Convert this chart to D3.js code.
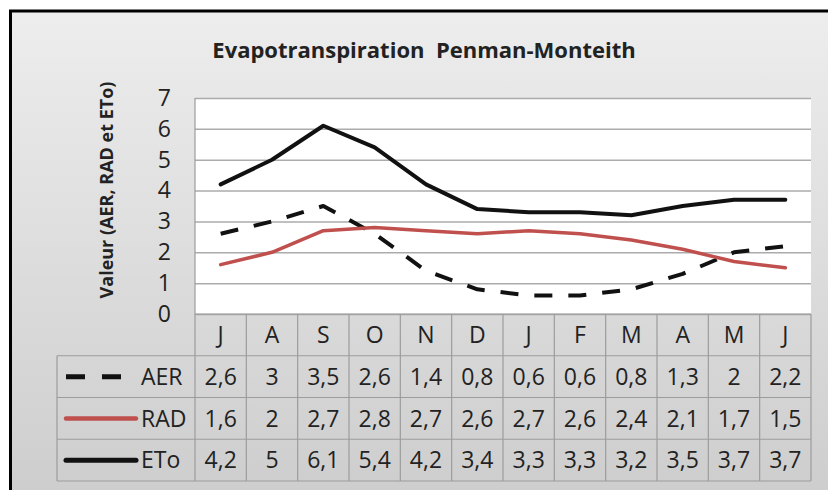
<!DOCTYPE html>
<html>
<head>
<meta charset="utf-8">
<style>
  body { margin: 0; background: #fff; }
  svg text { font-family: "Open Sans", sans-serif; fill: #222; }
</style>
</head>
<body>
  <svg id="chart"></svg>

  <script src="https://cdn.jsdelivr.net/npm/d3@7"></script>
  <script>
    // values
    months = ["J", "A", "S", "O", "N", "D", "J", "F", "M", "A", "M", "J"]
    aer = [2.6, 3, 3.5, 2.6, 1.4, 0.8, 0.6, 0.6, 0.8, 1.3, 2, 2.2]
    rad = [1.6, 2, 2.7, 2.8, 2.7, 2.6, 2.7, 2.6, 2.4, 2.1, 1.7, 1.5]
    eto = [4.2, 5, 6.1, 5.4, 4.2, 3.4, 3.3, 3.3, 3.2, 3.5, 3.7, 3.7]
    yTicks = [0, 1, 2, 3, 4, 5, 6, 7]

    width = 828
    height = 490

    series = [
      { name: "AER", values: aer, color: "#111", dash: "18,16", w: 4 },
      { name: "RAD", values: rad, color: "#c0504d", dash: null, w: 3.5 },
      { name: "ETo", values: eto, color: "#111", dash: null, w: 4 }
    ]

    svg = d3.select('#chart')
            .attr('width', width)
            .attr('height', height)

    // gray gradient background like the excel chart area
    grad = svg.append('defs').append('linearGradient')
              .attr('id', 'bg').attr('x1', 0).attr('y1', 0).attr('x2', 0).attr('y2', 1)
    grad.append('stop').attr('offset', '0%').attr('stop-color', '#ededed')
    grad.append('stop').attr('offset', '100%').attr('stop-color', '#cdcdcd')

    svg.append('rect').attr('x', 11).attr('y', 11).attr('width', width).attr('height', height)
       .attr('fill', 'url(#bg)')
    // frame (right and bottom edges fall outside the picture)
    svg.append('path').attr('d', 'M10.5,' + height + 'V11H' + width)
       .attr('fill', 'none').attr('stroke', '#000').attr('stroke-width', 3)

    plot = { left: 195, right: 811, top: 98, bottom: 314 }
    tableBottom = 481
    legendLeft = 57
    fs = 23

    x = d3.scaleBand().domain(d3.range(months.length)).range([plot.left, plot.right])
    y = d3.scaleLinear().domain([0, 7]).range([plot.bottom, plot.top])
    rowY = d3.scaleBand().domain(["head"].concat(series.map(s => s.name))).range([plot.bottom, tableBottom])

    // plot area
    svg.append('rect')
       .attr('x', plot.left).attr('y', plot.top)
       .attr('width', plot.right - plot.left).attr('height', plot.bottom - plot.top)
       .attr('fill', '#fff')

    // gridlines
    grid = svg.append('g').attr('transform', 'translate(' + plot.left + ',0)')
              .call(d3.axisLeft(y).tickValues(yTicks).tickSize(-(plot.right - plot.left)).tickFormat(''))
    grid.select('.domain').remove()
    grid.selectAll('line').attr('stroke', '#ababab').attr('stroke-width', 1.5)

    // y tick labels
    yAx = svg.append('g').attr('transform', 'translate(171,0)')
             .call(d3.axisLeft(y).tickValues(yTicks).tickSize(0).tickPadding(0).tickFormat(d3.format('d')))
    yAx.select('.domain').remove()
    yAx.selectAll('text').attr('font-size', fs).attr('fill', '#222')
       .style('font-family', '"Open Sans", sans-serif')

    // titles
    svg.append('text').attr('x', 424).attr('y', 58)
       .attr('text-anchor', 'middle').attr('font-size', 22).attr('font-weight', 'bold')
       .style('white-space', 'pre')
       .text('Evapotranspiration  Penman-Monteith')

    svg.append('text').attr('transform', 'translate(113,190) rotate(-90)')
       .attr('text-anchor', 'middle').attr('font-size', 18).attr('font-weight', 'bold')
       .text('Valeur (AER, RAD et ETo)')

    // data table
    table = svg.append('g').attr('fill', 'none').attr('stroke', '#9c9c9c').attr('stroke-width', 1.2)
    // horizontal rules
    table.append('line').attr('x1', plot.left).attr('x2', plot.right)
         .attr('y1', plot.bottom).attr('y2', plot.bottom)
    series.forEach(function(s) {
      table.append('line').attr('x1', legendLeft).attr('x2', plot.right)
           .attr('y1', rowY(s.name)).attr('y2', rowY(s.name))
    })
    table.append('line').attr('x1', legendLeft).attr('x2', plot.right)
         .attr('y1', tableBottom).attr('y2', tableBottom)
    // vertical rules
    d3.range(months.length + 1).forEach(function(i) {
      xx = plot.left + i * x.bandwidth()
      table.append('line').attr('x1', xx).attr('x2', xx)
           .attr('y1', i == 0 ? plot.top : plot.bottom).attr('y2', tableBottom)
    })
    table.append('line').attr('x1', legendLeft).attr('x2', legendLeft)
         .attr('y1', rowY(series[0].name)).attr('y2', tableBottom)

    // month header
    svg.append('g').selectAll('text').data(months).enter().append('text')
       .attr('x', (d, i) => x(i) + x.bandwidth() / 2)
       .attr('y', rowY('head') + rowY.bandwidth() / 2)
       .attr('dy', '0.36em').attr('text-anchor', 'middle').attr('font-size', fs)
       .text(d => d)

    fmt = v => String(v).replace('.', ',')

    series.forEach(function(s) {
      cy = rowY(s.name) + rowY.bandwidth() / 2
      g = svg.append('g')
      g.selectAll('text').data(s.values).enter().append('text')
       .attr('x', (d, i) => x(i) + x.bandwidth() / 2)
       .attr('y', cy).attr('dy', '0.36em').attr('text-anchor', 'middle').attr('font-size', fs)
       .text(d => fmt(d))
      // legend key
      g.append('line').attr('x1', 66).attr('x2', 136).attr('y1', cy).attr('y2', cy)
       .attr('stroke', s.color).attr('stroke-width', s.w + 1)
       .attr('stroke-dasharray', s.dash ? '19,17' : null)
       .attr('stroke-linecap', s.dash ? 'butt' : 'round')
      g.append('text').attr('x', 141).attr('y', cy).attr('dy', '0.36em').attr('font-size', fs)
       .text(s.name)
    })

    // the lines
    line = d3.line()
             .x((d, i) => x(i) + x.bandwidth() / 2)
             .y(d => y(d))

    svg.append('g').selectAll('path').data(series).enter().append('path')
       .attr('d', d => line(d.values))
       .attr('fill', 'none')
       .attr('stroke', d => d.color)
       .attr('stroke-width', d => d.w)
       .attr('stroke-dasharray', d => d.dash)
       .attr('stroke-linejoin', 'round')
       .attr('stroke-linecap', d => d.dash ? 'butt' : 'round')
  </script>
</body>
</html>
